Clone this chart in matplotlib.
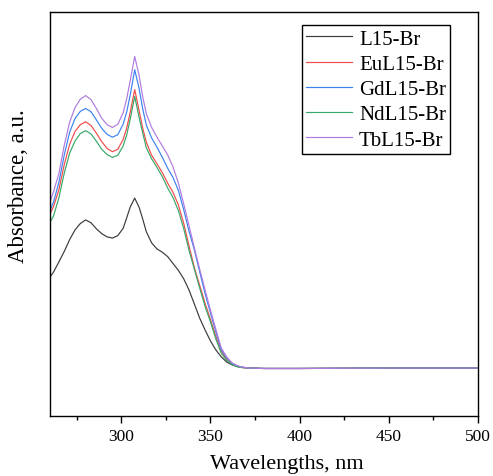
import matplotlib
matplotlib.use("Agg")
import matplotlib.pyplot as plt
from matplotlib.ticker import MultipleLocator

# wavelength grid (nm) and absorbance (a.u.)
wl = [260, 262, 265, 268, 271, 274, 277, 280, 283, 286, 289, 292, 295, 298,
      301, 303, 305, 307.5, 310, 312, 314, 317, 320, 323, 326, 329, 332, 335,
      338, 341, 344, 347, 350, 353, 356, 359, 362, 365, 368, 372, 380, 400,
      450, 500]

l15 = [0.343, 0.356, 0.381, 0.407, 0.436, 0.460, 0.476, 0.485, 0.478, 0.463,
       0.451, 0.443, 0.440, 0.446, 0.464, 0.490, 0.517, 0.539, 0.516, 0.487,
       0.456, 0.428, 0.413, 0.405, 0.394, 0.377, 0.360, 0.339, 0.311, 0.276,
       0.241, 0.212, 0.185, 0.163, 0.146, 0.133, 0.126, 0.122, 0.120, 0.118,
       0.117, 0.117, 0.118, 0.118]

eu = [0.500, 0.518, 0.560, 0.622, 0.672, 0.704, 0.721, 0.728, 0.719, 0.700,
      0.679, 0.662, 0.654, 0.660, 0.684, 0.712, 0.752, 0.808, 0.755, 0.712,
      0.678, 0.645, 0.624, 0.602, 0.576, 0.553, 0.522, 0.476, 0.420, 0.366,
      0.322, 0.278, 0.238, 0.197, 0.160, 0.140, 0.128, 0.122, 0.119, 0.118,
      0.117, 0.117, 0.118, 0.118]

gd = [0.508, 0.530, 0.578, 0.646, 0.702, 0.736, 0.754, 0.761, 0.753, 0.733,
      0.712, 0.697, 0.690, 0.696, 0.722, 0.752, 0.795, 0.857, 0.810, 0.760,
      0.720, 0.688, 0.665, 0.640, 0.613, 0.590, 0.558, 0.510, 0.456, 0.410,
      0.355, 0.302, 0.254, 0.208, 0.164, 0.144, 0.130, 0.123, 0.120, 0.118,
      0.117, 0.117, 0.118, 0.118]

nd = [0.479, 0.495, 0.540, 0.601, 0.650, 0.680, 0.699, 0.706, 0.698, 0.680,
      0.660, 0.647, 0.640, 0.645, 0.668, 0.695, 0.735, 0.791, 0.738, 0.700,
      0.664, 0.636, 0.615, 0.592, 0.564, 0.540, 0.508, 0.463, 0.409, 0.362,
      0.315, 0.270, 0.232, 0.190, 0.155, 0.137, 0.127, 0.121, 0.119, 0.118,
      0.117, 0.117, 0.118, 0.118]

tb = [0.530, 0.555, 0.600, 0.670, 0.727, 0.763, 0.784, 0.793, 0.783, 0.761,
      0.737, 0.721, 0.714, 0.722, 0.750, 0.785, 0.830, 0.890, 0.842, 0.790,
      0.748, 0.714, 0.690, 0.668, 0.646, 0.616, 0.576, 0.524, 0.470, 0.415,
      0.362, 0.311, 0.261, 0.214, 0.168, 0.146, 0.131, 0.124, 0.120, 0.118,
      0.117, 0.117, 0.118, 0.118]

labels = ["L15-Br", "EuL15-Br", "GdL15-Br", "NdL15-Br", "TbL15-Br"]
colors = ["#3a3a3a", "#f24a4a", "#3b82ee", "#36a86a", "#b07ae0"]

plt.rcParams["font.family"] = ["Liberation Serif", "DejaVu Serif"]

fig = plt.figure(figsize=(4.93, 4.77), dpi=100)
ax = fig.add_axes([0.1014, 0.1264, 0.8682, 0.8463])

for y, lab, c in zip([l15, eu, gd, nd, tb], labels, colors):
    ax.plot(wl, y, color=c, lw=0.85, label=lab, solid_joinstyle="round")

ax.set_xlim(260, 500)
ax.set_ylim(0, 1)
ax.xaxis.set_major_locator(MultipleLocator(50))
ax.xaxis.set_minor_locator(MultipleLocator(25))
ax.set_yticks([])
ax.tick_params(axis="x", which="major", direction="out", length=5, width=1,
               labelsize=12.5, pad=4)
ax.tick_params(axis="x", which="minor", direction="out", length=3, width=1)
for s in ax.spines.values():
    s.set_linewidth(1.0)

ax.set_xlabel("Wavelengths, nm", fontsize=16)
ax.xaxis.set_label_coords(0.554, -0.095)
ax.set_ylabel("Absorbance, a.u.", fontsize=16.5)
ax.yaxis.set_label_coords(-0.05, 0.57)

leg = ax.legend(loc="upper right", bbox_to_anchor=(0.935, 0.968),
                fontsize=15, frameon=True, fancybox=False, edgecolor="black",
                framealpha=1, handlelength=2.2, handletextpad=0.35,
                borderpad=0.2, labelspacing=0.27, borderaxespad=0)
leg.get_frame().set_linewidth(1.0)

fig.savefig("out.png", dpi=100)
